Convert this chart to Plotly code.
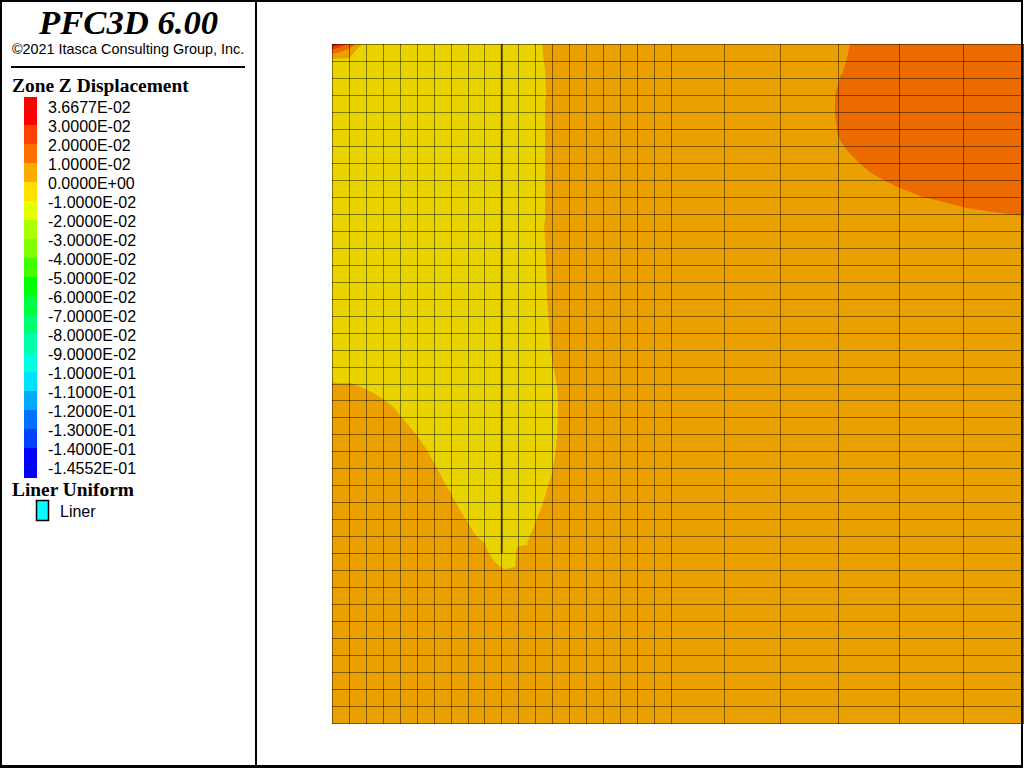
import plotly.graph_objects as go

# ---------- data ----------
legend_labels = ["3.6677E-02", "3.0000E-02", "2.0000E-02", "1.0000E-02", "0.0000E+00",
                 "-1.0000E-02", "-2.0000E-02", "-3.0000E-02", "-4.0000E-02", "-5.0000E-02",
                 "-6.0000E-02", "-7.0000E-02", "-8.0000E-02", "-9.0000E-02", "-1.0000E-01",
                 "-1.1000E-01", "-1.2000E-01", "-1.3000E-01", "-1.4000E-01", "-1.4552E-01"]
legend_colors = ["#ff0000", "#ff4000", "#ff7000", "#ffaa00", "#ffe100", "#e6ff00", "#aaff00",
                 "#80ff00", "#40ff00", "#00ff00", "#00ff40", "#00ff70", "#00ffaa", "#00ffe1",
                 "#00e1ff", "#00aaff", "#0070ff", "#0040ff", "#0000ff"]

grid_x = [332, 349, 366, 383, 400, 417, 434, 451, 468, 484, 501, 518, 535, 552, 569, 586, 603,
          620, 637, 654, 671, 724, 780, 838, 899, 963, 1023]
grid_y = [44, 61, 78, 95, 112, 129, 146, 163, 180, 197, 214, 231, 248, 265, 282, 299, 316, 333,
          350, 367, 384, 400, 417, 434, 451, 468, 485, 502, 519, 536, 553, 570, 587, 604, 621,
          638, 655, 672, 689, 706, 723]

liner_x = [501, 501]
liner_y = [44, 553]

neg_x = [332, 542, 543, 545, 546, 545, 545, 544, 545, 546, 547, 548.3, 549, 550, 551.7, 554, 556,
         558, 557.3, 555.7, 553, 548.3, 545, 541.7, 537.3, 534, 530, 526.7, 520, 516.7, 515.7,
         515, 505, 501.7, 495, 488.3, 485, 478.3, 473.3, 468.3, 461.7, 451.7, 443.3, 435, 426.7,
         418.3, 410, 401.7, 393.3, 383.3, 371.7, 358.3, 350, 340, 332]
neg_y = [44, 44, 55, 70, 96, 100, 220, 225, 240, 280, 298, 315, 335, 345, 355, 370, 380,
         400, 430, 450, 470, 485, 497, 507, 518, 527, 535, 545, 546, 548, 557,
         567, 569, 568, 562, 553, 543, 538, 532, 523, 513, 495, 480, 465, 450,
         437, 427, 416, 407, 399, 392, 386, 383, 383, 382]

high_x = [850, 847, 843, 840, 837.3, 835.3, 834.7, 836, 837.7, 841.7, 848.3, 858.3, 870, 883.3,
          900, 920, 943.3, 966.7, 993.3, 1021, 1024, 1024]
high_y = [44, 58, 72, 77, 87, 95, 112, 123, 135, 143, 152, 162, 172, 180,
          188, 196, 202, 208, 212, 215, 216, 44]

corner_levels = [
    ("#e9a000", [332, 362, 350, 350, 332], [44, 44, 57, 58, 59]),
    ("#ec6a00", [332, 356, 350, 340, 332], [44, 44, 48, 52, 54]),
    ("#e93a00", [332, 348, 340, 332], [44, 44, 47, 50]),
    ("#e60000", [332, 340, 332], [44, 44, 47]),
]

COL_BASE = "#e9a000"
COL_NEG = "#e9d400"
COL_HIGH = "#ec6a00"

# ---------- figure ----------
W, H = 1024, 768
fig = go.Figure()


def poly(xs, ys, color):
    fig.add_trace(go.Scatter(x=xs, y=ys, mode="lines", fill="toself", fillcolor=color,
                             line=dict(width=0), hoverinfo="skip", showlegend=False,
                             xaxis="x", yaxis="y"))


x0, x1, y0, y1 = grid_x[0], W, grid_y[0], grid_y[-1] + 1
poly([x0, x1, x1, x0, x0], [y0, y0, y1, y1, y0], COL_BASE)
poly(neg_x, neg_y, COL_NEG)
poly(high_x, high_y, COL_HIGH)
for color, cx, cy in corner_levels:
    poly(cx, cy, color)

gx, gy = [], []
for v in grid_x:
    gx += [v + 0.5, v + 0.5, None]
    gy += [grid_y[0], grid_y[-1] + 1, None]
for v in grid_y:
    gx += [grid_x[0], W, None]
    gy += [v + 0.5, v + 0.5, None]
fig.add_trace(go.Scatter(x=gx, y=gy, mode="lines", line=dict(color="rgba(0,0,0,0.45)", width=1),
                         hoverinfo="skip", showlegend=False, xaxis="x", yaxis="y"))
fig.add_trace(go.Scatter(x=[v + 0.8 for v in liner_x], y=liner_y, mode="lines",
                         line=dict(color="rgba(10,10,0,0.65)", width=2),
                         hoverinfo="skip", showlegend=False, xaxis="x", yaxis="y"))

# legend bar: row i of the labels sits at y = i on the second axis
n = len(legend_colors)
edges = [-0.526] + [i - 0.05 for i in range(1, n)] + [19.51]
fig.add_trace(go.Bar(x=[30.5] * n, y=[edges[i + 1] - edges[i] for i in range(n)], base=edges[:-1],
                     width=13, marker=dict(color=legend_colors, line=dict(width=0)),
                     hoverinfo="skip", showlegend=False, xaxis="x2", yaxis="y2"))
fig.add_trace(go.Scatter(x=[48] * len(legend_labels), y=[i + 0.1 for i in range(len(legend_labels))],
                         mode="text", text=legend_labels, textposition="middle right",
                         textfont=dict(family="Liberation Sans", size=16, color="black"),
                         hoverinfo="skip", showlegend=False, xaxis="x2", yaxis="y2"))


def label(text, px, py, font, size, anchor="left", **kw):
    fig.add_annotation(x=px / W, y=1 - py / H, xref="paper", yref="paper", text=text,
                       showarrow=False, xanchor=anchor, yanchor="middle",
                       font=dict(family=font, size=size, color="black"),
                       borderpad=0, **kw)


label("<b><i>PFC3D 6.00</i></b>", 127.5, 22, "Liberation Serif", 34.67, "center")
label("©2021 Itasca Consulting Group, Inc.", 127.5, 49, "Liberation Sans", 14.4, "center")
label("<b>Zone Z Displacement</b>", 11, 86, "Liberation Serif", 19.4)
label("<b>Liner Uniform</b>", 11, 489.5, "Liberation Serif", 19.4)
label("Liner", 59, 511, "Liberation Sans", 16)


def box(a, b, c, d, **kw):
    fig.add_shape(type="rect", xref="paper", yref="paper", x0=a / W, x1=b / W,
                  y0=1 - d / H, y1=1 - c / H, layer="above", **kw)


BLACK = dict(fillcolor="black", line=dict(width=0))
box(0, 1021.5, 0, 2, **BLACK)
box(0, 1023, 765, 768, **BLACK)
box(0, 2, 0, 768, **BLACK)
box(255, 257, 0, 768, **BLACK)
box(1021, 1023, 0, 768, **BLACK)
box(11, 245, 66, 68, **BLACK)
box(36.5, 48.5, 500.5, 520.5, fillcolor="#00ffff", line=dict(color="black", width=1.5))

fig.update_layout(
    width=W, height=H, margin=dict(l=0, r=0, t=0, b=0, pad=0), autosize=False,
    paper_bgcolor="white", plot_bgcolor="rgba(0,0,0,0)", barmode="overlay", bargap=0,
    xaxis=dict(domain=[332 / W, 1], range=[332, W], visible=False, fixedrange=True),
    yaxis=dict(domain=[0, 1], range=[H, 0], visible=False, fixedrange=True),
    xaxis2=dict(domain=[0, 256 / W], range=[0, 256], visible=False, fixedrange=True, anchor="y2"),
    yaxis2=dict(domain=[0, 1], range=[(H - 107) / 19, -107 / 19], visible=False,
                fixedrange=True, anchor="x2"),
)

fig.write_html("out.html", config=dict(displayModeBar=False),
               post_script="document.body.style.margin='0';document.body.style.overflow='hidden';")
